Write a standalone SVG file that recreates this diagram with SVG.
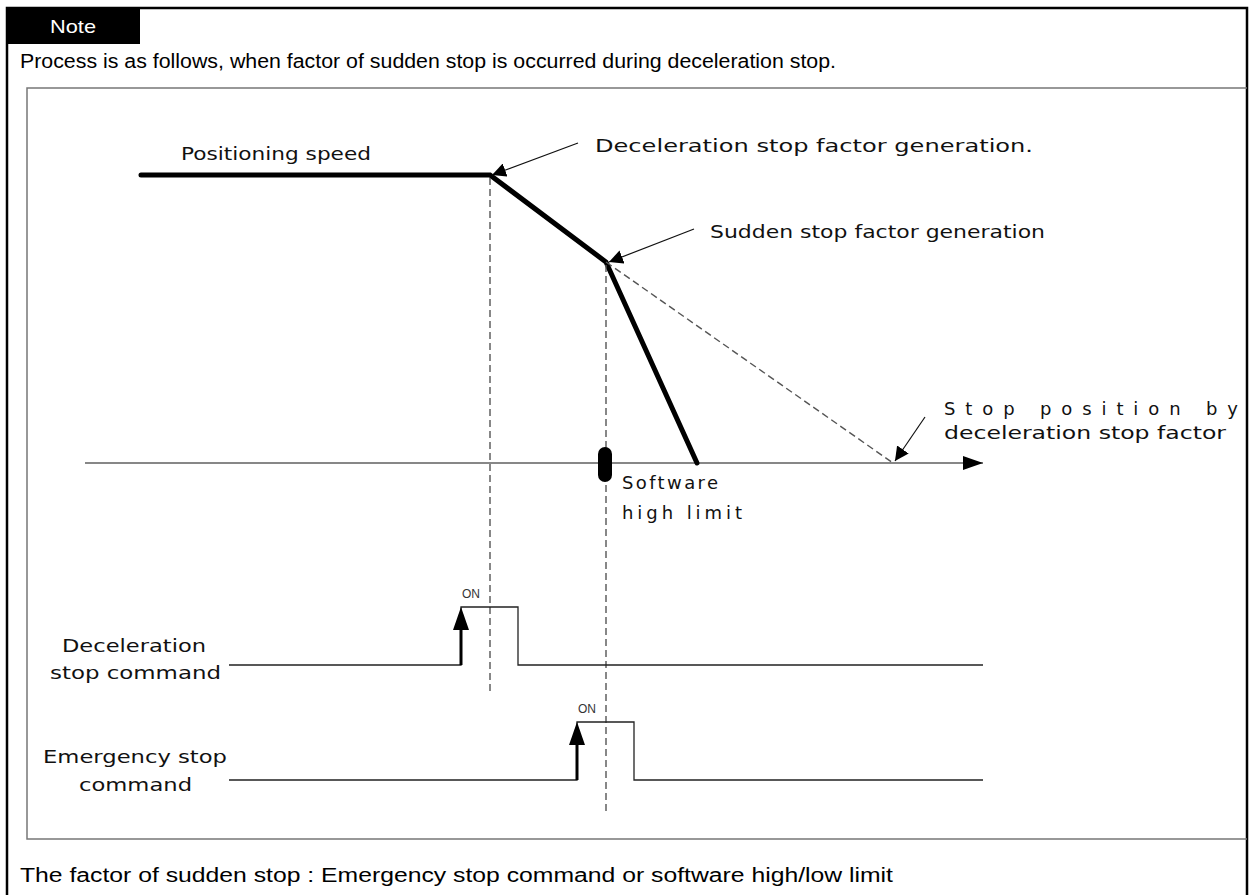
<svg xmlns="http://www.w3.org/2000/svg" width="1253" height="895" viewBox="0 0 1253 895">
<style>
.hdr{font-family:"Liberation Sans",Arial,sans-serif;fill:#000}
.lbl{font-family:"DejaVu Sans","Noto Sans",sans-serif;font-size:18px;fill:#111}
.on{font-family:"Liberation Sans",Arial,sans-serif;font-size:12px;fill:#333}
.dash{stroke:#555;stroke-width:1.4;stroke-dasharray:7,4;fill:none}
.thin{stroke:#111;stroke-width:1.2;fill:none}
.sig{stroke:#222;stroke-width:1.3;fill:none}
</style>
<defs>
<marker id="ah" viewBox="0 0 10 10" refX="10" refY="5" markerWidth="14" markerHeight="14" markerUnits="userSpaceOnUse" orient="auto">
<path d="M0,0 L10,5 L0,10 z" fill="#000"/>
</marker>
<marker id="axh" viewBox="0 0 10 10" refX="10" refY="5" markerWidth="20" markerHeight="14" markerUnits="userSpaceOnUse" orient="auto" preserveAspectRatio="none">
<path d="M0,0 L10,5 L0,10 z" fill="#000"/>
</marker>
</defs>
<rect width="1253" height="895" fill="#fff"/>
<g id="frame">
<path d="M7,895 V8 H1247 V895" fill="none" stroke="#000" stroke-width="2.5"/>
<rect x="7" y="8" width="133" height="36" fill="#000"/>
<text x="50" y="33" class="hdr" font-size="19" style="fill:#fff" textLength="46" lengthAdjust="spacingAndGlyphs">Note</text>
<text x="20" y="68" class="hdr" font-size="20" textLength="816" lengthAdjust="spacingAndGlyphs">Process is as follows, when factor of sudden stop is occurred during deceleration stop.</text>
<path d="M1247,88 H27 V839 H1247" fill="none" stroke="#777" stroke-width="1.5"/>
<text x="20" y="882" class="hdr" font-size="20" textLength="873" lengthAdjust="spacingAndGlyphs">The factor of sudden stop : Emergency stop command or software high/low limit</text>
</g>
<g id="connectors">
<line x1="85" y1="463" x2="983" y2="463" class="thin" marker-end="url(#axh)"/>
<polyline points="141,175 490,175 606,262 697,463" fill="none" stroke="#000" stroke-width="5" stroke-linejoin="miter" stroke-linecap="round"/>
<line x1="606" y1="262" x2="893" y2="463" class="dash" stroke-dasharray="6,4" stroke-width="1.1"/>
<line x1="490" y1="178" x2="490" y2="695" class="dash"/>
<line x1="606" y1="265" x2="606" y2="813" class="dash"/>
<line x1="578" y1="143" x2="492" y2="175" class="thin" marker-end="url(#ah)"/>
<line x1="694" y1="229" x2="609" y2="262" class="thin" marker-end="url(#ah)"/>
<line x1="925" y1="417" x2="895" y2="461" class="thin" marker-end="url(#ah)"/>
<polyline points="229,665 461,665 461,607 518,607 518,665 983,665" class="sig"/>
<polyline points="229,780 577,780 577,722 634,722 634,780 983,780" class="sig"/>
<line x1="461" y1="665" x2="461" y2="625" stroke="#000" stroke-width="3"/>
<path d="M461,607 L469,630 L453,630 z" fill="#000"/>
<line x1="577" y1="780" x2="577" y2="740" stroke="#000" stroke-width="3"/>
<path d="M577,722 L585,745 L569,745 z" fill="#000"/>
</g>
<g id="marker-limit">
<rect x="598" y="447" width="14" height="35" rx="7" fill="#000"/>
</g>
<g id="labels">
<text x="181" y="160" class="lbl" textLength="190" lengthAdjust="spacingAndGlyphs">Positioning speed</text>
<text x="595" y="152" class="lbl" textLength="438" lengthAdjust="spacingAndGlyphs">Deceleration stop factor generation.</text>
<text x="710" y="238" class="lbl" textLength="335" lengthAdjust="spacingAndGlyphs">Sudden stop factor generation</text>
<text x="944" y="415" class="lbl" textLength="294" lengthAdjust="spacing">Stop position by</text>
<text x="944" y="439" class="lbl" textLength="282" lengthAdjust="spacingAndGlyphs">deceleration stop factor</text>
<text x="622" y="489" class="lbl" textLength="96" lengthAdjust="spacing">Software</text>
<text x="622" y="519" class="lbl" textLength="120" lengthAdjust="spacing">high limit</text>
<text x="62" y="652" class="lbl" textLength="144" lengthAdjust="spacingAndGlyphs">Deceleration</text>
<text x="50" y="679" class="lbl" textLength="171" lengthAdjust="spacingAndGlyphs">stop command</text>
<text x="43" y="763" class="lbl" textLength="184" lengthAdjust="spacingAndGlyphs">Emergency stop</text>
<text x="79" y="791" class="lbl" textLength="113" lengthAdjust="spacingAndGlyphs">command</text>
<text x="462" y="598" class="on">ON</text>
<text x="578" y="713" class="on">ON</text>
</g>
</svg>
